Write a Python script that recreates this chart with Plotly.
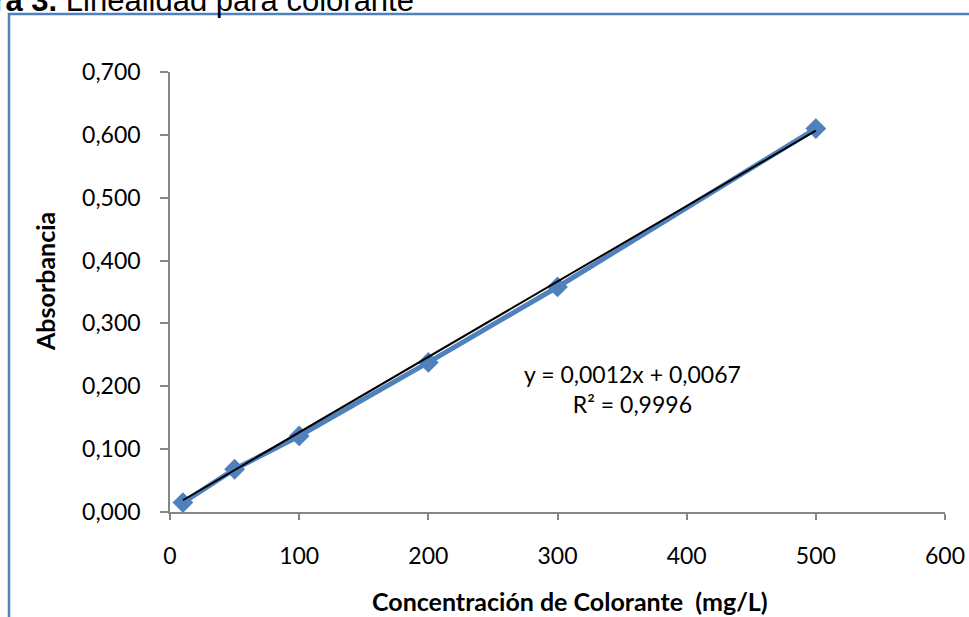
import plotly.graph_objects as go

# Calibration data: dye concentration (mg/L) vs. absorbance
concentracion = [10, 50, 100, 200, 300, 500]
absorbancia = [0.015, 0.068, 0.121, 0.238, 0.358, 0.610]

# Linear trend line as reported
pendiente = 0.0012
intercepto = 0.0067
r2_texto = "0,9996"

x_ticks = [0, 100, 200, 300, 400, 500, 600]
y_ticks = [0.0, 0.1, 0.2, 0.3, 0.4, 0.5, 0.6, 0.7]

W, H = 969, 617
L, R, T, B = 170, 24, 72, 105
pw, ph = W - L - R, H - T - B


def px(xp):
    return (xp - L) / pw


def py(yp):
    return (H - B - yp) / ph


AZUL = "#4F81BD"
GRIS = "#868686"
FUENTE = "Lato"

trend_x = [min(concentracion), max(concentracion)]
trend_y = [pendiente * v + intercepto for v in trend_x]

fig = go.Figure()
fig.add_trace(go.Scatter(
    x=concentracion, y=absorbancia, mode="lines+markers",
    line=dict(color=AZUL, width=5),
    marker=dict(symbol="diamond", size=16, color=AZUL),
    showlegend=False, hoverinfo="x+y",
))
fig.add_trace(go.Scatter(
    x=trend_x, y=trend_y, mode="lines",
    line=dict(color="black", width=2),
    showlegend=False, hoverinfo="skip",
))

axis_common = dict(
    showgrid=False, zeroline=False, showline=True, linecolor=GRIS, linewidth=1.5,
    ticks="outside", tickcolor=GRIS, tickwidth=1.5, automargin=False,
    tickfont=dict(family=FUENTE, size=23, color="black"),
)

fig.update_layout(
    width=W, height=H,
    margin=dict(l=L, r=R, t=T, b=B),
    paper_bgcolor="white", plot_bgcolor="white",
    separators=",.",
    xaxis=dict(range=[0, 600], tickvals=x_ticks, ticklen=6, ticklabelstandoff=17,
               **axis_common),
    yaxis=dict(range=[0, 0.7], tickvals=y_ticks, tickformat=".3f", ticklen=8,
               ticklabelstandoff=15, **axis_common),
)

# Chart frame (left and top edges visible)
fig.add_shape(type="rect", xref="paper", yref="paper",
              x0=px(9), x1=px(1010), y0=py(660), y1=py(14),
              line=dict(color=AZUL, width=2.5), fillcolor="rgba(0,0,0,0)", layer="below")

# Figure caption above the frame
fig.add_annotation(
    xref="paper", yref="paper", x=px(416), y=py(20), xanchor="right", yanchor="bottom",
    text="<b>Figura 3.</b> Linealidad para colorante", showarrow=False,
    font=dict(family="Liberation Sans", size=31, color="black"),
)

# Axis titles
fig.add_annotation(
    xref="paper", yref="paper", x=px(45), y=py(282), textangle=-90,
    xanchor="center", yanchor="middle",
    text="<b>Absorbancia</b>", showarrow=False,
    font=dict(family=FUENTE, size=25, color="black"),
)
fig.add_annotation(
    xref="paper", yref="paper", x=px(570), y=py(601),
    xanchor="center", yanchor="middle",
    text="<b>Concentración de Colorante\u00a0 (mg/L)</b>", showarrow=False,
    font=dict(family=FUENTE, size=25, color="black"),
)

# Regression equation
fig.add_annotation(
    xref="paper", yref="paper", x=px(632), y=py(389),
    xanchor="center", yanchor="middle",
    text=f"y = {str(pendiente).replace('.', ',')}x + {str(intercepto).replace('.', ',')}<br>R² = {r2_texto}",
    showarrow=False, align="center",
    font=dict(family=FUENTE, size=23, color="black"),
)

fig.write_html("out.html")
